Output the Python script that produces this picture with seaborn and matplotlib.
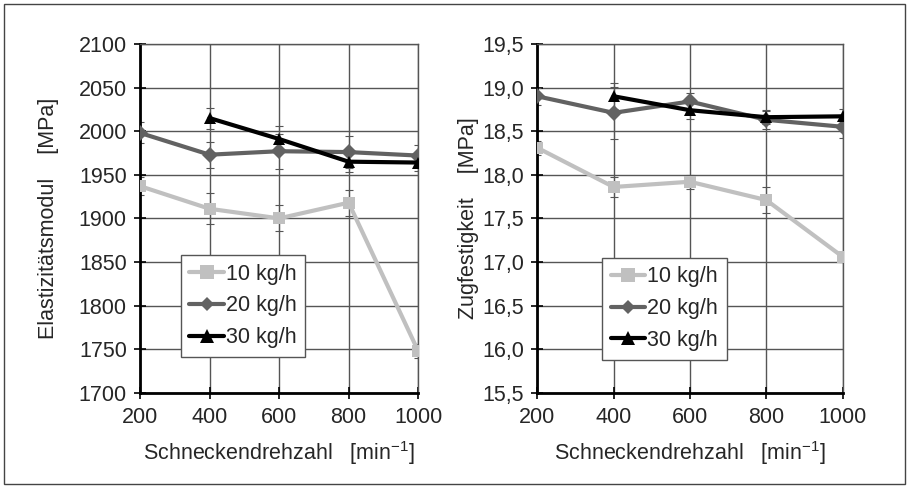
import matplotlib
matplotlib.use("Agg")
import matplotlib.pyplot as plt
import seaborn as sns
import pandas as pd
from matplotlib.patches import Rectangle

# ---- data ----
speeds = [200, 400, 600, 800, 1000]
series_names = ["10 kg/h", "20 kg/h", "30 kg/h"]

emod_10 = [1937, 1911, 1900, 1918, 1748]
emod_20 = [1998, 1973, 1977, 1976, 1972]
emod_30 = [None, 2015, 1991, 1965, 1964]
emod_err_10 = [10, 18, 15, 15, 8]
emod_err_20 = [12, 15, 20, 18, 12]
emod_err_30 = [0, 12, 15, 12, 10]

zug_10 = [18.31, 17.86, 17.92, 17.71, 17.06]
zug_20 = [18.90, 18.71, 18.84, 18.63, 18.55]
zug_30 = [None, 18.90, 18.74, 18.66, 18.67]
zug_err_10 = [0.08, 0.12, 0.08, 0.15, 0.06]
zug_err_20 = [0.10, 0.30, 0.10, 0.10, 0.13]
zug_err_30 = [0, 0.15, 0.10, 0.08, 0.08]

emod_ticks = [1700, 1750, 1800, 1850, 1900, 1950, 2000, 2050, 2100]
zug_ticks = [15.5, 16.0, 16.5, 17.0, 17.5, 18.0, 18.5, 19.0, 19.5]
zug_ticklabels = ["15,5", "16,0", "16,5", "17,0", "17,5", "18,0", "18,5", "19,0", "19,5"]

colors = ["#c0c0c0", "#626262", "#000000"]
markers = ["s", "D", "^"]
msizes = [10, 7, 10]

FS = 15.5

sns.set_theme(style="white")
plt.rcParams["font.family"] = ["Liberation Sans", "DejaVu Sans"]
plt.rcParams["mathtext.fontset"] = "custom"
plt.rcParams["mathtext.rm"] = "Liberation Sans"
plt.rcParams["mathtext.it"] = "Liberation Sans"

fig = plt.figure(figsize=(9.09, 4.88), dpi=100)
fig.patches.append(Rectangle((0.004, 0.008), 0.992, 0.984, transform=fig.transFigure,
                             fill=False, edgecolor="#444444", linewidth=1.0))

ax1 = fig.add_axes([0.154, 0.195, 0.306, 0.715])
ax2 = fig.add_axes([0.591, 0.195, 0.336, 0.715])


def build_df(vals_list, errs_list):
    rows = []
    for name, vals, errs in zip(series_names, vals_list, errs_list):
        for s, v, e in zip(speeds, vals, errs):
            if v is not None:
                rows.append({"speed": s, "value": v, "err": e, "series": name})
    return pd.DataFrame(rows)


def draw(ax, df, yticks, yticklabels, ylim, ylabel, ylabelpad, legend_anchor):
    for i, name in enumerate(series_names):
        sub = df[df["series"] == name]
        ax.errorbar(sub["speed"], sub["value"], yerr=sub["err"], fmt="none",
                    ecolor="#555555", elinewidth=0.8, capsize=3, capthick=0.8, zorder=2)
    sns.lineplot(data=df, x="speed", y="value", hue="series", style="series",
                 palette=dict(zip(series_names, colors)),
                 markers=dict(zip(series_names, markers)),
                 dashes=False, linewidth=3, markersize=8, markeredgewidth=0,
                 ax=ax, zorder=3)
    for line, ms in zip(ax.lines[-3:], msizes):
        line.set_markersize(ms)
    ax.set_xlim(200, 1000)
    ax.set_ylim(*ylim)
    ax.set_xticks(speeds)
    ax.set_yticks(yticks)
    ax.set_yticklabels(yticklabels)
    ax.grid(True, color="#555555", linewidth=1.0)
    ax.set_axisbelow(True)
    for side in ["top", "right"]:
        ax.spines[side].set_color("#555555")
        ax.spines[side].set_linewidth(1.0)
    for side in ["left", "bottom"]:
        ax.spines[side].set_color("#000000")
        ax.spines[side].set_linewidth(2.0)
    ax.tick_params(axis="both", direction="inout", length=9, width=1.2, color="black",
                   labelsize=FS, pad=5, left=True, bottom=True)
    ax.tick_params(axis="x", pad=6)
    ax.set_xlabel(r"Schneckendrehzahl   [min$^{\mathregular{-1}}$]", fontsize=FS, labelpad=8)
    ax.set_ylabel(ylabel, fontsize=FS, labelpad=ylabelpad)
    handles, labels = ax.get_legend_handles_labels()
    leg = ax.legend(handles, labels, loc="upper left", bbox_to_anchor=legend_anchor,
                    fontsize=FS, frameon=True, fancybox=False, edgecolor="#555555",
                    framealpha=1, handlelength=1.6, handletextpad=0.1,
                    borderpad=0.4, labelspacing=0.5, borderaxespad=0)
    leg.get_frame().set_linewidth(1.0)


df1 = build_df([emod_10, emod_20, emod_30], [emod_err_10, emod_err_20, emod_err_30])
df2 = build_df([zug_10, zug_20, zug_30], [zug_err_10, zug_err_20, zug_err_30])

draw(ax1, df1, emod_ticks, [str(t) for t in emod_ticks], (1700, 2100),
     "Elastizitätsmodul    [MPa]", 14, (0.147, 0.395))
draw(ax2, df2, zug_ticks, zug_ticklabels, (15.5, 19.5),
     "Zugfestigkeit    [MPa]", 2, (0.212, 0.387))

fig.savefig("out.png", dpi=100)
